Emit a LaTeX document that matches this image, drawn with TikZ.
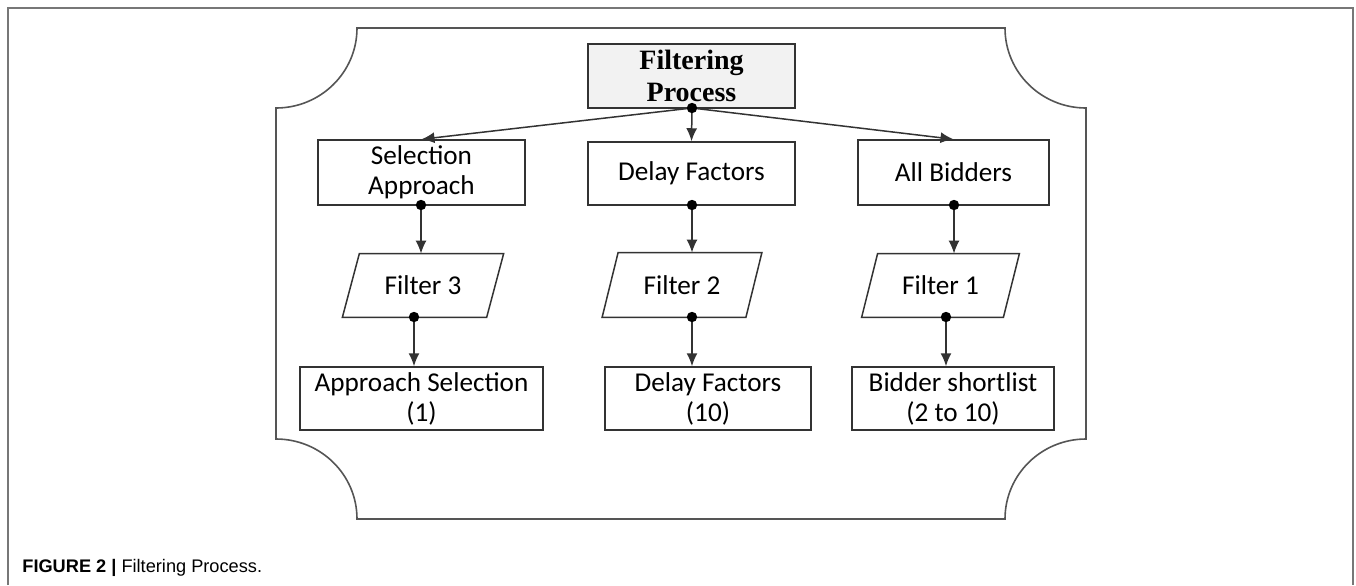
\documentclass[tikz,border=0pt]{standalone}
\usepackage{fontspec}
\setmainfont{Carlito}
\newfontfamily\titlefont{Liberation Serif}
\newfontfamily\capfont{Liberation Sans}
\usetikzlibrary{arrows.meta}
\definecolor{linec}{HTML}{333333}
\definecolor{framec}{HTML}{555555}
\definecolor{titlefill}{HTML}{F2F2F2}
\begin{document}
\begin{tikzpicture}[x=0.5pt,y=-0.5pt,
  bx/.style={draw=linec, line width=0.75pt, inner sep=0pt, align=center,
    font=\fontsize{13.6}{15}\selectfont},
  para/.style={inner sep=0pt, align=center, font=\fontsize{13.6}{15}\selectfont},
  conn/.style={draw=linec, line width=0.75pt, -{Latex[length=6.5pt,width=5.5pt]}},
  dot/.style={fill=black},
  frame/.style={draw=framec, line width=0.8pt}]
\useasboundingbox (0,0) rectangle (1356,585);
% page frame
\draw[draw=framec!80, line width=0.75pt] (8,585) -- (8,8) -- (1353,8) -- (1353,585);
% scalloped frame
\draw[frame] (357,28) -- (1005,28) .. controls (1005,72.5) and (1041.5,108) .. (1086,108)
  -- (1086,439) .. controls (1041.5,439) and (1005,474.5) .. (1005,519)
  -- (357,519) .. controls (357,474.5) and (320.5,439) .. (276,439)
  -- (276,108) .. controls (320.5,108) and (357,72.5) .. (357,28) -- cycle;
% nodes
\node[bx, fill=titlefill, minimum width=103.5pt, minimum height=32pt,
  font=\titlefont\bfseries\fontsize{14}{16}\selectfont] (top) at (691.5,76) {Filtering\\Process};
\node[bx, minimum width=103.5pt, minimum height=32.5pt] (sa) at (421.5,172.5) {Selection\\Approach};
\node[bx, minimum width=103.5pt, minimum height=31.5pt] (df) at (691.5,173.5) {Delay Factors};
\node[bx, minimum width=95.5pt, minimum height=32.5pt] (ab) at (953.5,172.5) {All Bidders};
\node[para, minimum width=71.75pt, minimum height=31.5pt] (f3) at (423,285.5) {Filter 3};
\node[para, minimum width=71.5pt, minimum height=32pt] (f2) at (682,285) {Filter 2};
\node[para, minimum width=70.5pt, minimum height=31.5pt] (f1) at (940.5,285.5) {Filter 1};
\draw[draw=linec, line width=0.75pt] ([xshift=4.25pt]f3.north west) -- ([xshift=4.25pt]f3.north east)
  -- ([xshift=-4.25pt]f3.south east) -- ([xshift=-4.25pt]f3.south west) -- cycle;
\draw[draw=linec, line width=0.75pt] ([xshift=4pt]f2.north west) -- ([xshift=4pt]f2.north east)
  -- ([xshift=-4pt]f2.south east) -- ([xshift=-4pt]f2.south west) -- cycle;
\draw[draw=linec, line width=0.75pt] ([xshift=4pt]f1.north west) -- ([xshift=4pt]f1.north east)
  -- ([xshift=-4pt]f1.south east) -- ([xshift=-4pt]f1.south west) -- cycle;
\node[bx, minimum width=121.5pt, minimum height=31.5pt] (as) at (421.5,398.5) {Approach Selection\\(1)};
\node[bx, minimum width=103pt, minimum height=31.5pt] (d10) at (708,398.5) {Delay Factors\\(10)};
\node[bx, minimum width=101pt, minimum height=31.5pt] (bs) at (953,398.5) {Bidder shortlist\\(2 to 10)};
% connector start points
\coordinate (t0) at (692,108);
\coordinate (p1) at (421,205);
\coordinate (p2) at (692,205);
\coordinate (p3) at (954,205);
\coordinate (q3) at (414,317);
\coordinate (q2) at (692,317);
\coordinate (q1) at (946,317);
% connectors
\draw[conn] (t0) -- (sa.north);
\draw[conn] (t0) -- (df.north);
\draw[conn] (t0) -- (ab.north);
\draw[conn] (p1) -- (p1 |- f3.north);
\draw[conn] (p2) -- (p2 |- f2.north);
\draw[conn] (p3) -- (p3 |- f1.north);
\draw[conn] (q3) -- (q3 |- as.north);
\draw[conn] (q2) -- (q2 |- d10.north);
\draw[conn] (q1) -- (q1 |- bs.north);
\foreach \p in {t0,p1,p2,p3,q1,q2,q3} \fill[dot] (\p) circle[radius=2.6pt];
% caption
\node[anchor=base west, inner sep=0pt, font=\capfont\fontsize{9.1}{10}\selectfont] (cap) at (22,572)
  {\textbf{FIGURE 2 |} Filtering Process.};
\end{tikzpicture}
\end{document}
